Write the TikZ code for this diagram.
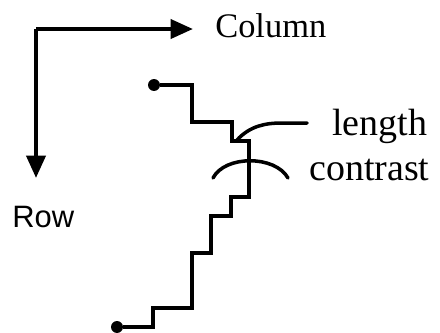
\documentclass[tikz,border=0pt]{standalone}
\usepackage{fontspec}
\setmainfont{Liberation Serif}
\newfontfamily\rowfont{Liberation Sans}
\usetikzlibrary{arrows.meta,positioning}
\tikzset{
  axis/.style={-{Triangle[length=16pt, width=13.5pt]}, line width=3pt},
  stair/.style={line width=3pt, line join=miter},
  arc line/.style={line width=2.5pt, line cap=round},
  dot/.style={circle, fill, inner sep=0pt, minimum size=8.5pt},
  label/.style={inner sep=0pt, anchor=base west},
}

\begin{document}
\begin{tikzpicture}[x=0.025cm, y=-0.025cm]
  \useasboundingbox (0,0) rectangle (440,332);

  % Axes
  \coordinate (origin) at (36,29);
  \coordinate (colend) at (193,29);
  \coordinate (rowend) at (36,178);
  \draw[axis] (origin) -- (colend);
  \draw[axis] (origin) -- (rowend);
  \node[label, font=\fontsize{24.5}{28}\selectfont] (column) at (215,37) {Column};
  \node[label, font=\rowfont\fontsize{22}{26}\selectfont] (row) at (12,227) {Row};

  % Staircase
  \node[dot] (start) at (154,85) {};
  \node[dot] (stop) at (117,327) {};
  \draw[stair] (start) -- (192,85) -- (192,122) -- (232,122) -- (232,141)
    -- (249,141) -- (249,197) -- (231,197) -- (231,216) -- (211,216)
    -- (211,253) -- (192,253) -- (192,308) -- (153,308) -- (153,327) -- (stop);

  % Arcs
  \draw[arc line] (237,140) .. controls (250,126) and (265,123) .. (282,123) -- (307,123);
  \draw[arc line] (213,178) .. controls (225,155) and (275,155) .. (288,178);
  \node[label, font=\fontsize{27}{32}\selectfont] (length) at (332,135) {length};
  \node[label, font=\fontsize{27}{32}\selectfont] (contrast) at (309,180) {contrast};
\end{tikzpicture}
\end{document}
